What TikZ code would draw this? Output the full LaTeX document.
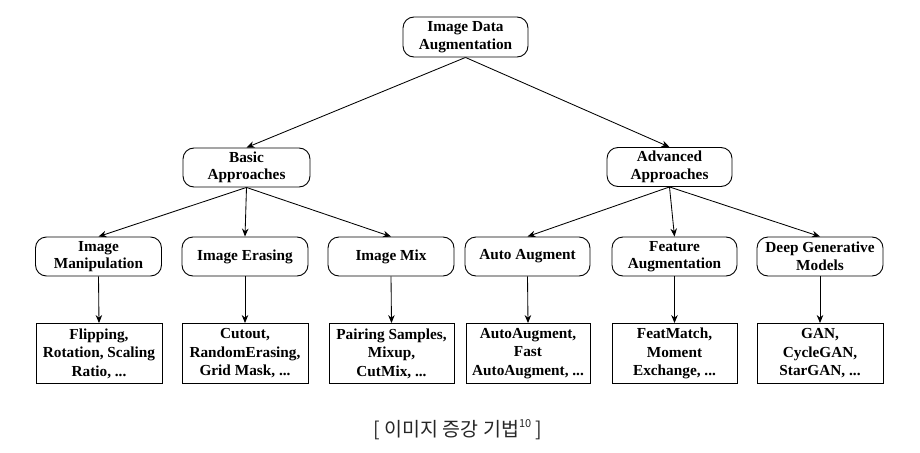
\documentclass[tikz,border=0pt]{standalone}
\usepackage{fontspec}
\setmainfont{Liberation Serif}
\newfontfamily\krfont{Noto Sans CJK KR}
\usetikzlibrary{arrows.meta}
\tikzset{
  roundbox/.style={draw, line width=0.9pt, rounded corners=11pt, minimum width=126pt, minimum height=39pt,
    inner sep=0pt, align=center, font=\fontsize{15.3}{17.5}\selectfont\bfseries},
  leafbox/.style={draw, line width=0.9pt, minimum width=125pt, minimum height=60pt,
    inner sep=0pt, align=center, font=\fontsize{15.3}{18.5}\selectfont\bfseries},
  link/.style={line width=0.85pt, -{Stealth[length=8pt,width=6.5pt]}}
}
\begin{document}
\begin{tikzpicture}[x=1pt,y=-1pt]
\useasboundingbox (0,0) rectangle (920,452);
\node[roundbox, minimum width=125pt, minimum height=40pt] (top) at (465.5,37) {Image Data\\Augmentation};
\node[roundbox, minimum width=127pt] (basic) at (246.5,167.5) {Basic\\Approaches};
\node[roundbox, minimum width=125pt] (adv) at (669.5,167) {Advanced\\Approaches};

\node[roundbox] (m1) at (98.5,256.5) {Image\\Manipulation};
\node[roundbox] (m2) at (245,256.5) {Image Erasing};
\node[roundbox] (m3) at (391,256.5) {Image Mix};
\node[roundbox, minimum width=125pt] (m4) at (527.5,256.5) {Auto Augment};
\node[roundbox, minimum width=125pt] (m5) at (674.5,256.5) {Feature\\Augmentation};
\node[roundbox] (m6) at (820,256.5) {Deep Generative\\Models};

\node[leafbox, minimum width=126pt] (b1) at (99,353.5) {Flipping,\\Rotation, Scaling\\Ratio, ...};
\node[leafbox, minimum width=126pt] (b2) at (245,353.5) {Cutout,\\RandomErasing,\\Grid Mask, ...};
\node[leafbox] (b3) at (391.5,353.5) {Pairing Samples,\\Mixup,\\CutMix, ...};
\node[leafbox, minimum width=124pt] (b4) at (528,353.5) {AutoAugment,\\Fast\\AutoAugment, ...};
\node[leafbox] (b5) at (674.5,353.5) {FeatMatch,\\Moment\\Exchange, ...};
\node[leafbox, minimum width=126pt] (b6) at (820,353.5) {GAN,\\CycleGAN,\\StarGAN, ...};

\draw[link] (top.south) -- (basic.north);
\draw[link] (top.south) -- (adv.north);
\foreach \m in {m1,m2,m3} \draw[link] (basic.south) -- (\m.north);
\foreach \m in {m4,m5,m6} \draw[link] (adv.south) -- (\m.north);
\draw[link] (m1.south) -- (b1.north);
\draw[link] (m2.south) -- (b2.north);
\draw[link] (m3.south) -- (b3.north);
\draw[link] (m4.south) -- (b4.north);
\draw[link] (m5.south) -- (b5.north);
\draw[link] (m6.south) -- (b6.north);

\node[font=\krfont\fontsize{19.5}{22}\selectfont, text=black!85] (cap) at (458,430) {[ 이미지 증강 기법\raisebox{0.45em}{\fontsize{11}{12}\selectfont 10} ]};
\end{tikzpicture}
\end{document}
